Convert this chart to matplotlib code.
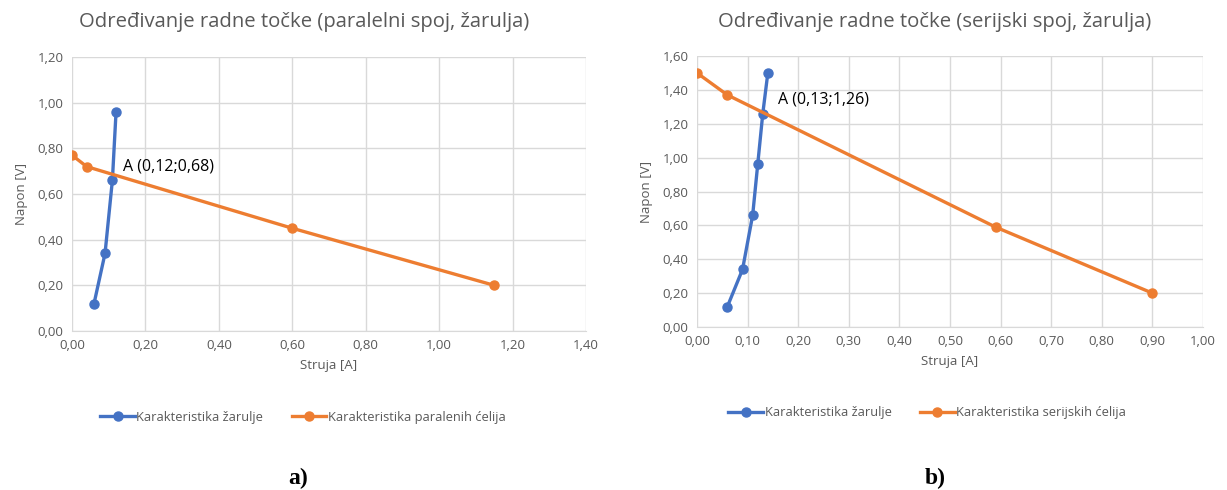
import matplotlib
matplotlib.use("Agg")
import matplotlib.pyplot as plt
from matplotlib.ticker import FuncFormatter, MultipleLocator

plt.rcParams['font.family'] = ['Open Sans', 'DejaVu Sans']

# Left chart (parallel)
bulb_a_I = [0.06, 0.09, 0.11, 0.12]
bulb_a_U = [0.12, 0.34, 0.66, 0.96]
cells_a_I = [0.00, 0.04, 0.60, 1.15]
cells_a_U = [0.77, 0.72, 0.45, 0.20]

# Right chart (series)
bulb_b_I = [0.06, 0.09, 0.11, 0.12, 0.13, 0.14]
bulb_b_U = [0.12, 0.34, 0.66, 0.96, 1.26, 1.50]
cells_b_I = [0.00, 0.06, 0.59, 0.90]
cells_b_U = [1.50, 1.37, 0.59, 0.20]

title_a = "Određivanje radne točke (paralelni spoj, žarulja)"
title_b = "Određivanje radne točke (serijski spoj, žarulja)"
label_bulb = "Karakteristika žarulje"
label_cells_a = "Karakteristika paralenih ćelija"
label_cells_b = "Karakteristika serijskih ćelija"
point_a = (0.12, 0.68)
point_b = (0.13, 1.26)
text_a = "A (0,12;0,68)"
text_b = "A (0,13;1,26)"

BLUE = "#4472C4"
ORANGE = "#ED7D31"
GRAY = "#595959"
GRID = "#D9D9D9"

W, H = 1227, 490
fig = plt.figure(figsize=(W / 100, H / 100), dpi=100)

fmt = FuncFormatter(lambda v, p: f"{v:.2f}".replace('.', ','))


def make_axes(rect, xs1, ys1, xs2, ys2, xmax, xstep, ymax, ystep, lab2, pt, txt, off, legend_anchor):
    ax = fig.add_axes(rect)
    ax.plot(xs1, ys1, color=BLUE, lw=2.4, marker='o', ms=6.5, label=label_bulb, zorder=3)
    ax.plot(xs2, ys2, color=ORANGE, lw=2.4, marker='o', ms=6.5, label=lab2, zorder=3)
    ax.set_xlim(0, xmax)
    ax.set_ylim(0, ymax)
    ax.xaxis.set_major_locator(MultipleLocator(xstep))
    ax.yaxis.set_major_locator(MultipleLocator(ystep))
    ax.xaxis.set_major_formatter(fmt)
    ax.yaxis.set_major_formatter(fmt)
    ax.grid(True, color=GRID, lw=1)
    ax.set_axisbelow(True)
    for s in ['top', 'right', 'left']:
        ax.spines[s].set_visible(False)
    ax.spines['bottom'].set_color(GRID)
    ax.tick_params(length=0, colors=GRAY, labelsize=9.5, pad=6)
    ax.set_xlabel("Struja [A]", color=GRAY, fontsize=9.5, labelpad=5)
    ax.set_ylabel("Napon [V]", color=GRAY, fontsize=9.5, labelpad=7)
    ax.annotate(txt, xy=pt, xytext=off, textcoords='offset points', fontsize=11.5,
                color='black', va='center', ha='left')
    ax.legend(loc='center', bbox_to_anchor=legend_anchor, ncol=2, frameon=False,
              fontsize=9.3, handlelength=2.7, handletextpad=0.1, columnspacing=2.2,
              labelcolor=GRAY)
    return ax


axA = make_axes([72 / W, 1 - 331 / H, (586 - 72) / W, (331 - 57) / H],
                bulb_a_I, bulb_a_U, cells_a_I, cells_a_U, 1.4, 0.2, 1.2, 0.2,
                label_cells_a, point_a, text_a, (5, 7), (0.449, -0.314))
axB = make_axes([697 / W, 1 - 327 / H, (1203 - 697) / W, (327 - 56) / H],
                bulb_b_I, bulb_b_U, cells_b_I, cells_b_U, 1.0, 0.1, 1.6, 0.2,
                label_cells_b, point_b, text_b, (11, 10), (0.455, -0.317))

fig.text(304 / W, 1 - 22 / H, title_a, ha='center', va='center', color=GRAY, fontsize=14.6)
fig.text(935 / W, 1 - 22 / H, title_b, ha='center', va='center', color=GRAY, fontsize=14.6)

fig.text(298 / W, 1 - 478 / H, "a)", ha='center', va='center', fontsize=17, fontweight='bold',
         family=['Liberation Serif', 'DejaVu Serif'])
fig.text(935 / W, 1 - 478 / H, "b)", ha='center', va='center', fontsize=17, fontweight='bold',
         family=['Liberation Serif', 'DejaVu Serif'])

fig.savefig("out.png", dpi=100)
